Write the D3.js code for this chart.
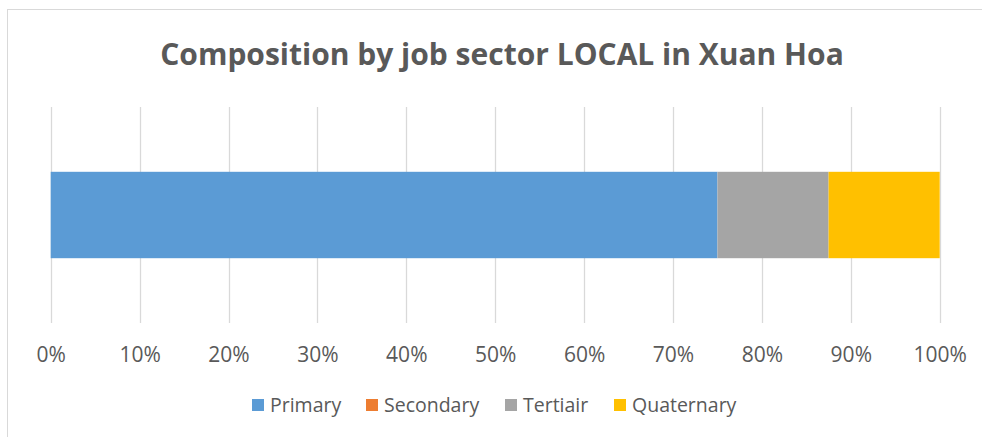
<!DOCTYPE html>
<html>
<head>
<meta charset="utf-8">
<script src="https://cdn.jsdelivr.net/npm/d3@7"></script>
<style>
  html, body { margin: 0; padding: 0; background: #fff; }
  #main { width: 982px; height: 437px; }
  text { font-family: "Open Sans", "Liberation Sans", sans-serif; fill: #595959; }
</style>
</head>
<body>
<div id="main"></div>
<script>
// chart data
const categories = ["Xuan Hoa"];
const seriesNames = ["Primary", "Secondary", "Tertiair", "Quaternary"];
const seriesValues = [75, 0, 12.5, 12.5];
const seriesColors = ["#5B9BD5", "#ED7D31", "#A5A5A5", "#FFC000"];
const tickValues = [0, 10, 20, 30, 40, 50, 60, 70, 80, 90, 100];
const tickLabels = ["0%", "10%", "20%", "30%", "40%", "50%", "60%", "70%", "80%", "90%", "100%"];

function drawChart() {
    d3.select("#main svg").remove();

    const width = 982, height = 437;
    const svg = d3.select("#main").append("svg")
        .attr("width", width)
        .attr("height", height);

    // outer chart frame (cut off at right and bottom)
    svg.append("rect")
        .attr("x", 7.5).attr("y", 9.5)
        .attr("width", 990).attr("height", 440)
        .attr("fill", "none")
        .attr("stroke", "#D9D9D9")
        .attr("stroke-width", 1);

    svg.append("text")
        .attr("x", 502).attr("y", 65)
        .attr("text-anchor", "middle")
        .style("font-size", "30px")
        .style("font-weight", "bold")
        .text("Composition by job sector LOCAL in Xuan Hoa");

    const x = d3.scaleLinear().domain([0, 100]).range([50.7, 939.7]);
    const y = d3.scaleBand().domain(categories).range([107, 323]).paddingInner(0.6).paddingOuter(0.3);

    // gridlines
    svg.append("g")
        .selectAll("line")
        .data(tickValues)
        .join("line")
        .attr("x1", d => Math.round(x(d)) + 0.5)
        .attr("x2", d => Math.round(x(d)) + 0.5)
        .attr("y1", 107).attr("y2", 323)
        .attr("stroke", "#D9D9D9")
        .attr("stroke-width", 1.3);

    // stacked bar
    const rows = categories.map(c => {
        const o = { cat: c };
        seriesNames.forEach((s, i) => o[s] = seriesValues[i]);
        return o;
    });
    const stacked = d3.stack().keys(seriesNames)(rows);
    svg.append("g")
        .selectAll("g")
        .data(stacked)
        .join("g")
        .attr("fill", (d, i) => seriesColors[i])
        .selectAll("rect")
        .data(d => d)
        .join("rect")
        .attr("x", d => x(d[0]))
        .attr("width", d => x(d[1]) - x(d[0]))
        .attr("y", d => y(d.data.cat))
        .attr("height", y.bandwidth());

    // x axis labels
    const axis = d3.axisBottom(x).tickValues(tickValues).tickFormat((d, i) => tickLabels[i]).tickSize(0).tickPadding(0);
    const ag = svg.append("g").attr("transform", "translate(0,347)").call(axis);
    ag.select(".domain").remove();
    ag.selectAll("text")
        .style("font-size", "21px")
        .attr("fill", "#595959")
        .attr("font-family", null);

    // legend
    const legendX = [252, 366, 505, 614];
    const lg = svg.append("g")
        .selectAll("g")
        .data(seriesNames)
        .join("g")
        .attr("transform", (d, i) => `translate(${legendX[i]},399)`);
    lg.append("rect")
        .attr("width", 12).attr("height", 12)
        .attr("fill", (d, i) => seriesColors[i]);
    lg.append("text")
        .attr("x", 18).attr("y", 13)
        .style("font-size", "19.5px")
        .text(d => d);
}

document.addEventListener("DOMContentLoaded", drawChart);
</script>
</body>
</html>
